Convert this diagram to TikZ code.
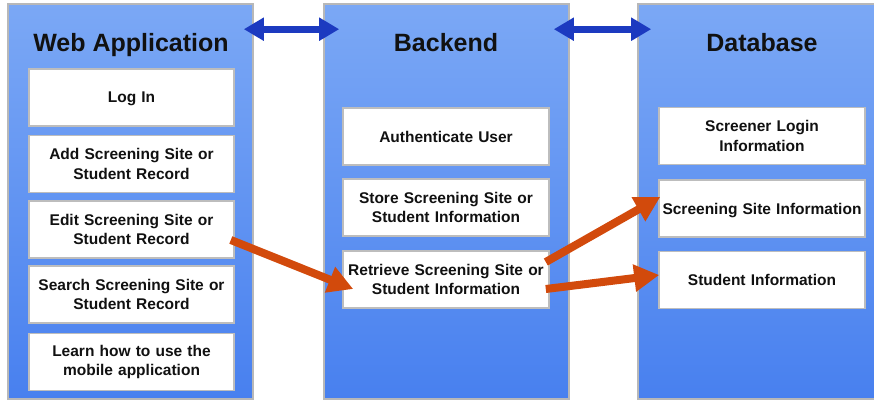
\documentclass[tikz,border=0pt]{standalone}
\usepackage{fontspec}
\setmainfont{Liberation Sans}
\usetikzlibrary{arrows.meta,calc}
\definecolor{coltop}{HTML}{7BA8F5}
\definecolor{colbot}{HTML}{4880EF}
\definecolor{colborder}{HTML}{B8B8B8}
\definecolor{boxborder}{HTML}{BDBDBD}
\definecolor{arrblue}{HTML}{1C3AC0}
\definecolor{arrorange}{HTML}{D24A0C}
\definecolor{txt}{HTML}{111111}
\tikzset{
  column/.style={draw=colborder, line width=1.6pt, top color=coltop, bottom color=colbot,
    minimum width=245pt, minimum height=395pt, inner sep=0pt},
  title/.style={anchor=base, font=\bfseries\fontsize{25}{28}\selectfont, text=txt},
  item/.style={draw=boxborder, line width=1.6pt, fill=white, minimum width=205pt,
    minimum height=57pt, inner sep=0pt, align=center, text width=200pt,
    font=\bfseries\fontsize{15.5}{19.5}\selectfont, text=txt},
  single/.style={text depth=0pt},
  linkarrow/.style={draw=arrblue, line width=7pt, {Triangle[length=20pt,width=22pt]}-{Triangle[length=20pt,width=22pt]}},
  flowarrow/.style={draw=arrorange, line width=8pt, -{Triangle[length=25pt,width=26pt]}}
}
\begin{document}
\begin{tikzpicture}[x=1pt,y=-1pt]
\useasboundingbox (0,0) rectangle (874,402);
% columns
\node[column] (col1) at (130.5,201.5) {};
\node[column] (col2) at (446.5,201.5) {};
\node[column] (col3) at (760.5,201.5) {};
% titles
\node[title] (t1) at (131,51) {Web Application};
\node[title] (t2) at (446,51.5) {Backend};
\node[title] (t3) at (762,51.5) {Database};
% web application items
\node[item, single] (login) at (131.5,97.5) {Log In};
\node[item] (add) at (131.5,164) {Add Screening Site or\\Student Record};
\node[item] (edit) at (131.5,229.5) {Edit Screening Site or\\Student Record};
\node[item] (search) at (131.5,294.5) {Search Screening Site or\\Student Record};
\node[item] (learn) at (131.5,362) {Learn how to use the\\mobile application};
% backend items
\node[item, single, minimum width=206pt] (auth) at (446,136.5) {Authenticate User};
\node[item, minimum width=206pt] (store) at (446,207.5) {Store Screening Site or\\Student Information};
\node[item, minimum width=206pt] (retrieve) at (446,279.5) {Retrieve Screening Site or\\Student Information};
% database items
\node[item, minimum width=206pt] (screener) at (762,136) {Screener Login\\Information};
\node[item, single, minimum width=206pt] (screening) at (762,208.5) {Screening Site Information};
\node[item, single, minimum width=206pt] (student) at (762,280) {Student Information};
% blue double arrows
\coordinate (b1s) at ($(col1.north east)+(-10,26)$);
\coordinate (b1e) at ($(col2.north west)+(16,26)$);
\coordinate (b2s) at ($(col2.north east)+(-16,26)$);
\coordinate (b2e) at ($(col3.north west)+(14,26)$);
\draw[linkarrow] (b1s) -- (b1e);
\draw[linkarrow] (b2s) -- (b2e);
% orange arrows
\coordinate (o1s) at ($(edit.east)+(-4,10.5)$);
\coordinate (o1e) at ($(retrieve.west)+(11,9.5)$);
\coordinate (o2s) at ($(retrieve.east)+(-4,-17.5)$);
\coordinate (o2e) at ($(screening.west)+(2,-11.5)$);
\coordinate (o3s) at ($(retrieve.east)+(-4,9.5)$);
\coordinate (o3e) at ($(student.west)+(1,-5)$);
\draw[flowarrow] (o1s) -- (o1e);
\draw[flowarrow] (o2s) -- (o2e);
\draw[flowarrow] (o3s) -- (o3e);
\end{tikzpicture}
\end{document}
